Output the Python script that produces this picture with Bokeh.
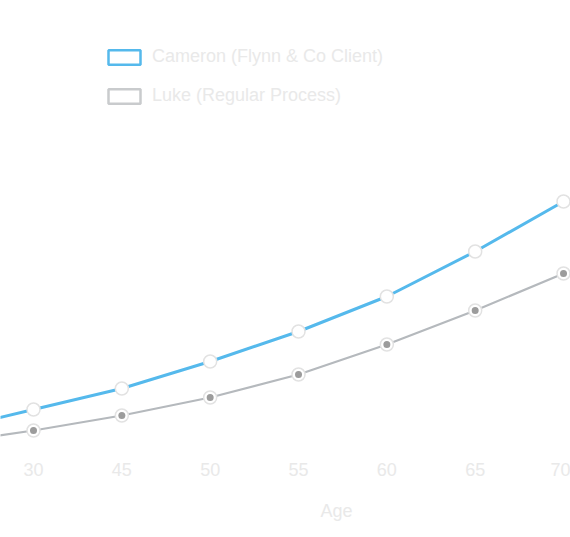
from bokeh.plotting import figure
from bokeh.models import ColumnDataSource, Legend, LegendItem, FixedTicker, Range1d, Title
from bokeh.embed import file_html
from bokeh.resources import INLINE

# ---- data ----
ages = ["25", "30", "45", "50", "55", "60", "65", "70"]
cameron = [250, 460, 670, 940, 1240, 1590, 2040, 2540]
luke = [120, 250, 400, 580, 810, 1110, 1450, 1820]
series_names = ["Cameron (Flynn & Co Client)", "Luke (Regular Process)"]
x_title = "Age"

BLUE = "#55b9ec"
GREY = "#b5b9bd"
TEXT = "#e9e9e9"
FONT = "Liberation Sans"

idx = list(range(len(ages)))
src = ColumnDataSource(dict(x=idx, cam=cameron, luke=luke))

p = figure(frame_width=570, frame_height=455, output_backend="svg", toolbar_location=None,
           x_range=Range1d(0.6264, 7.079), y_range=Range1d(0, 4550),
           min_border_left=0, min_border_right=0, min_border_top=0, min_border_bottom=0,
           background_fill_color="white", border_fill_color="white")
p.outline_line_color = None
p.grid.visible = False
p.yaxis.visible = False

xa = p.xaxis[0]
xa.ticker = FixedTicker(ticks=idx)
xa.major_label_overrides = {i: a for i, a in enumerate(ages)}
xa.axis_line_color = None
xa.major_tick_line_color = None
xa.minor_tick_line_color = None
xa.major_label_text_color = TEXT
xa.major_label_text_font = FONT
xa.major_label_text_font_size = "18px"
xa.major_label_standoff = 1

p.add_layout(Title(text=x_title, align="left", offset=320, text_color=TEXT, text_font=FONT,
                   text_font_size="18px", text_font_style="normal", standoff=40), "below")

p.line("x", "luke", source=src, line_color=GREY, line_width=2.2)
p.line("x", "cam", source=src, line_color=BLUE, line_width=3)
p.scatter("x", "cam", source=src, size=13, fill_color="white", line_color="#e2e2e2", line_width=1.5)
p.scatter("x", "luke", source=src, size=13, fill_color="white", line_color="#e2e2e2", line_width=1.5)
p.scatter("x", "luke", source=src, size=7, fill_color="#9c9c9c", line_color=None)

nan = float("nan")
swatch = ColumnDataSource(dict(l=[nan], r=[nan], t=[nan], b=[nan]))
sw1 = p.quad(left="l", right="r", top="t", bottom="b", source=swatch, fill_color="white",
             line_color=BLUE, line_width=2.5)
sw2 = p.quad(left="l", right="r", top="t", bottom="b", source=swatch, fill_color="white",
             line_color="#c9cbcd", line_width=2.5)

legend = Legend(items=[LegendItem(label=series_names[0], renderers=[sw1]),
                       LegendItem(label=series_names[1], renderers=[sw2])],
                location=(104, 349), orientation="vertical",
                glyph_width=40, glyph_height=18, label_standoff=8, spacing=18,
                padding=0, margin=0, border_line_color=None, background_fill_alpha=0,
                label_text_color=TEXT, label_text_font=FONT, label_text_font_size="18px")
p.add_layout(legend, "center")

open("out.html", "w").write(file_html(p, INLINE))
